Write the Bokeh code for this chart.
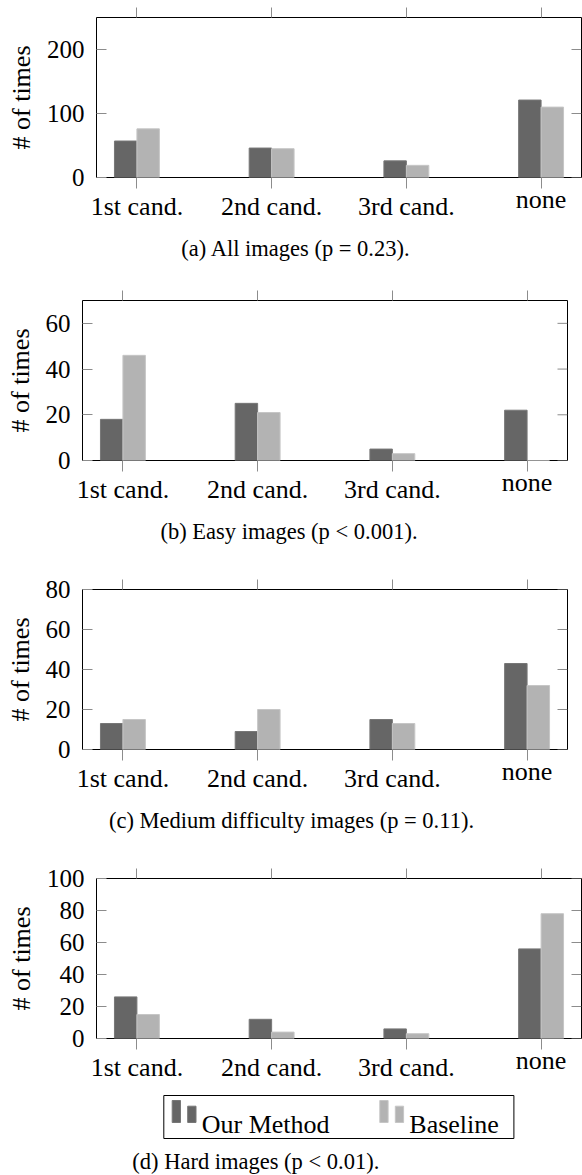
import numpy as np
from bokeh.plotting import figure
from bokeh.models import Range1d, LinearAxis, FixedTicker, Title
from bokeh.core.properties import value
from bokeh.layouts import column
from bokeh.embed import file_html
from bokeh.resources import INLINE

# ---------------- data ----------------
categories = ["1st cand.", "2nd cand.", "3rd cand.", "none"]
series_names = ["Our Method", "Baseline"]

all_ours = [57, 46, 26, 121]
all_base = [76, 45, 19, 110]
easy_ours = [18, 25, 5, 22]
easy_base = [46, 21, 3, 0]
medium_ours = [13, 9, 15, 43]
medium_base = [15, 20, 13, 32]
hard_ours = [26, 12, 6, 56]
hard_base = [15, 4, 3, 78]

captions = [
    "(a) All images (p = 0.23).",
    "(b) Easy images (p < 0.001).",
    "(c) Medium difficulty images (p = 0.11).",
    "(d) Hard images (p < 0.01).",
]
y_max = [250, 70, 80, 100]
y_ticks = [[0, 100, 200], [0, 20, 40, 60], [0, 20, 40, 60, 80], [0, 20, 40, 60, 80, 100]]

# ---------------- style ----------------
FONT = "Liberation Serif"
DARK, DARK_EDGE = "#666666", "#777777"
LIGHT, LIGHT_EDGE = "#b3b3b3", "#c6c6c6"
SERIES_FILL = [DARK, LIGHT]
SERIES_EDGE = [DARK_EDGE, LIGHT_EDGE]
TICK_COLOR = "#8c8c8c"
FIG_W = 582
FRAME_W = 485
FRAME_H = 160
YTICK_FS = "25px"
XTICK_FS = "26px"
YLABEL_FS = "26px"
CAP_FS = "22.5px"
RAISED = {"none"}   # labels without ascenders sit higher (top-anchored in the original)


def make_panel(ours, base, ymax, yticks, caption, height, top, border_left,
               ylabel_standoff, caption_left=None, caption_standoff=20):
    border_bottom = height - top - FRAME_H
    p = figure(width=FIG_W, height=height, x_range=Range1d(-0.3, 3.3),
               y_range=Range1d(0, ymax), output_backend="svg", toolbar_location=None,
               title=None, min_border_left=border_left,
               min_border_right=FIG_W - border_left - FRAME_W,
               min_border_top=top, min_border_bottom=border_bottom)
    p.frame_align = False
    p.xgrid.visible = False
    p.ygrid.visible = False
    p.outline_line_color = "black"
    p.outline_line_width = 1

    xs = np.arange(len(categories))
    p.vbar(x=xs - 1 / 12, top=ours, width=1 / 6, fill_color=DARK,
           line_color=DARK_EDGE, line_width=1)
    p.vbar(x=xs + 1 / 12, top=base, width=1 / 6, fill_color=LIGHT,
           line_color=LIGHT_EDGE, line_width=1)

    # right-side inner ticks
    p.ray(x=[3.3] * len(yticks), y=yticks, length=10, angle=np.pi,
          length_units="screen", line_color=TICK_COLOR, line_width=1)

    # bottom axis A: ticks + raised labels
    xa = p.xaxis[0]
    xa.ticker = FixedTicker(ticks=list(xs))
    xa.major_label_overrides = {i: (c if c in RAISED else "") for i, c in enumerate(categories)}
    xa.major_label_text_font = FONT
    xa.major_label_text_font_size = XTICK_FS
    xa.major_label_text_color = "black"
    xa.major_label_standoff = -4
    xa.major_tick_out = 11
    xa.major_tick_in = 0
    xa.minor_tick_line_color = None
    xa.major_tick_line_color = TICK_COLOR
    xa.axis_line_color = None

    # bottom axis B: the other category labels
    xb = LinearAxis(ticker=FixedTicker(ticks=list(xs)),
                    major_label_overrides={i: ("" if c in RAISED else c)
                                           for i, c in enumerate(categories)},
                    major_label_text_font=FONT, major_label_text_font_size=XTICK_FS,
                    major_label_text_color="black", major_label_standoff=-25,
                    major_tick_out=0, major_tick_in=0, major_tick_line_color=None,
                    minor_tick_line_color=None, axis_line_color=None)
    p.add_layout(xb, "below")

    # top axis: ticks only
    empty = {i: "" for i in range(len(categories))}
    ta = LinearAxis(ticker=FixedTicker(ticks=list(xs)), major_label_overrides=empty,
                    major_label_text_font_size="0px", major_label_standoff=0,
                    major_tick_out=10, major_tick_in=0, minor_tick_line_color=None,
                    major_tick_line_color=TICK_COLOR, axis_line_color=None)
    p.add_layout(ta, "above")

    # left y axis
    ya = p.yaxis[0]
    ya.ticker = FixedTicker(ticks=yticks)
    ya.major_tick_in = 10
    ya.major_tick_out = 0
    ya.minor_tick_line_color = None
    ya.major_tick_line_color = TICK_COLOR
    ya.axis_line_color = None
    ya.major_label_text_font = FONT
    ya.major_label_text_font_size = YTICK_FS
    ya.major_label_text_color = "black"
    ya.major_label_standoff = 12
    ya.axis_label = "# of times"
    ya.axis_label_text_font = FONT
    ya.axis_label_text_font_size = YLABEL_FS
    ya.axis_label_text_font_style = "normal"
    ya.axis_label_text_color = "black"
    ya.axis_label_standoff = ylabel_standoff

    if caption_left is not None:
        p.add_layout(Title(text=caption, align="left", offset=caption_left,
                           standoff=caption_standoff, text_font=FONT,
                           text_font_size=CAP_FS, text_font_style="normal",
                           text_color="black"), "below")
    return p


def make_legend_strip(height, caption, caption_x, caption_baseline):
    """Legend box (two-bar swatches as in the original) and the last caption."""
    p = figure(width=FIG_W, height=height, x_range=Range1d(0, FIG_W),
               y_range=Range1d(height, 0), output_backend="svg",
               toolbar_location=None, title=None, x_axis_type=None,
               y_axis_type=None, min_border=0)
    p.frame_align = False
    p.xgrid.visible = False
    p.ygrid.visible = False
    p.outline_line_color = None

    box_l, box_r, box_t, box_b = 163.3, 513.4, 1, 44
    p.quad(left=[box_l], right=[box_r], top=[box_t], bottom=[box_b],
           fill_color="white", line_color="black", line_width=1)

    entry_x = [171.7, 379.3]
    bar_w, bar_step = 8.3, 15.5
    tall_top, short_top, bar_bot = 6, 11.7, 28
    for k, name in enumerate(series_names):
        x0 = entry_x[k]
        p.quad(left=[x0, x0 + bar_step], right=[x0 + bar_w, x0 + bar_step + bar_w],
               top=[tall_top, short_top], bottom=[bar_bot, bar_bot],
               fill_color=SERIES_FILL[k], line_color=SERIES_EDGE[k], line_width=1)
    p.text(x=[e + 29.5 for e in entry_x], y=[29.5] * len(series_names),
           text=series_names, text_font=value(FONT), text_font_size=value(XTICK_FS),
           text_color="black", text_align="left", text_baseline="alphabetic")

    p.text(x=[caption_x], y=[caption_baseline], text=[caption], text_font=value(FONT),
           text_font_size=value(CAP_FS), text_color="black", text_align="left",
           text_baseline="alphabetic")
    return p


pa = make_panel(all_ours, all_base, y_max[0], y_ticks[0], captions[0],
                290, 17, 96, 8, 84.8)
pb = make_panel(easy_ours, easy_base, y_max[1], y_ticks[1], captions[1],
                280, 10, 82, 8, 78)
pc = make_panel(medium_ours, medium_base, y_max[2], y_ticks[2], captions[2],
                288, 19, 82, 8, 26.4)
pd = make_panel(hard_ours, hard_base, y_max[3], y_ticks[3], captions[3],
                236, 20, 96, 8, None)
pl = make_legend_strip(81, captions[3], 131.8, 67.0)

layout = column(pa, pb, pc, pd, pl, spacing=0)
open("out.html", "w").write(file_html(layout, INLINE))
